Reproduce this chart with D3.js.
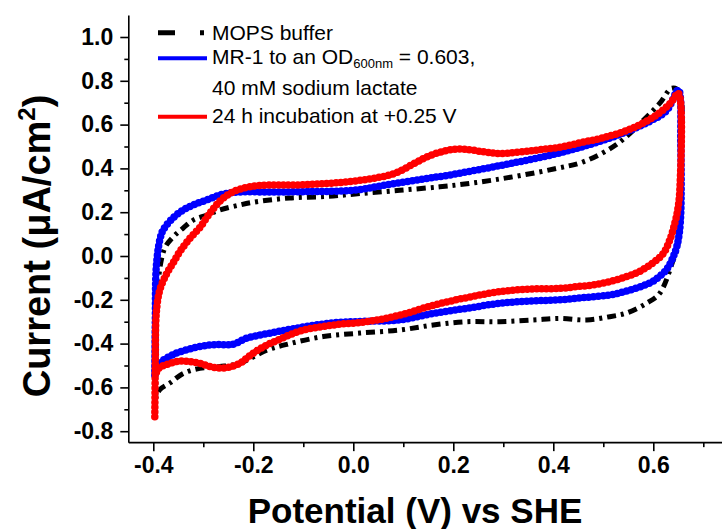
<!DOCTYPE html>
<html><head><meta charset="utf-8">
<script src="https://cdn.jsdelivr.net/npm/d3@7"></script>
<style>
html,body{margin:0;padding:0;background:#fff;}
svg{display:block;font-family:"Liberation Sans",Arial,Helvetica,sans-serif;}
</style>
</head><body>
<svg id="chart" width="722" height="529"></svg>
<script>
// ---------- data (potential in V vs SHE, current in µA/cm²) ----------
const mopsPotential = [-0.395,-0.394,-0.39,-0.377,-0.36,-0.34,-0.32,-0.293,-0.267,-0.227,-0.193,-0.127,-0.053,0.013,0.093,0.173,0.227,0.28,0.34,0.407,0.46,0.527,0.58,0.613,0.637,0.652,
  0.654,0.652,0.647,0.64,0.613,0.587,0.547,0.513,0.467,0.413,0.36,0.293,0.227,0.16,0.093,0.013,-0.06,-0.127,-0.173,-0.227,-0.267,-0.307,-0.34,-0.367,-0.387,-0.395];
const mopsCurrent = [-0.65,-0.35,-0.11,0.036,0.088,0.128,0.164,0.187,0.21,0.233,0.248,0.265,0.272,0.285,0.30,0.316,0.33,0.347,0.37,0.40,0.43,0.51,0.62,0.698,0.766,0.75,
  0.4,0.1,0.027,-0.018,-0.17,-0.215,-0.26,-0.277,-0.292,-0.285,-0.292,-0.30,-0.30,-0.315,-0.338,-0.352,-0.368,-0.40,-0.43,-0.49,-0.505,-0.513,-0.536,-0.58,-0.61,-0.65];

const mr1Potential = [-0.397,-0.396,-0.394,-0.387,-0.38,-0.36,-0.34,-0.32,-0.293,-0.26,-0.227,-0.16,-0.093,0.0,0.06,0.127,0.193,0.26,0.327,0.393,0.46,0.527,0.593,0.627,0.65,
  0.655,0.655,0.652,0.647,0.64,0.627,0.6,0.58,0.547,0.513,0.46,0.413,0.36,0.293,0.227,0.16,0.093,0.027,-0.04,-0.12,-0.173,-0.213,-0.24,-0.28,-0.32,-0.36,-0.387,-0.397];
const mr1Current = [-0.545,-0.30,-0.05,0.073,0.12,0.175,0.21,0.233,0.256,0.283,0.292,0.292,0.294,0.30,0.322,0.347,0.37,0.398,0.428,0.46,0.50,0.55,0.615,0.665,0.758,
  0.5,0.2,0.105,0.043,-0.003,-0.06,-0.115,-0.135,-0.16,-0.178,-0.19,-0.2,-0.205,-0.216,-0.239,-0.262,-0.292,-0.298,-0.305,-0.332,-0.355,-0.375,-0.403,-0.405,-0.42,-0.45,-0.49,-0.545];

const incubationPotential = [-0.397,-0.396,-0.394,-0.387,-0.373,-0.36,-0.347,-0.327,-0.307,-0.287,-0.267,-0.247,-0.227,-0.187,-0.107,-0.04,0.027,0.08,0.12,0.15,0.187,0.22,0.26,0.293,0.36,0.413,0.46,0.50,0.56,0.607,0.635,0.65,
  0.653,0.648,0.643,0.633,0.62,0.60,0.573,0.547,0.513,0.48,0.447,0.413,0.36,0.293,0.227,0.16,0.093,0.027,-0.04,-0.107,-0.147,-0.18,-0.207,-0.227,-0.253,-0.28,-0.313,-0.347,-0.373,-0.39,-0.396];
const incubationCurrent = [-0.734,-0.50,-0.26,-0.155,-0.08,-0.03,0.02,0.08,0.13,0.195,0.25,0.285,0.305,0.322,0.325,0.333,0.35,0.375,0.42,0.455,0.482,0.488,0.476,0.468,0.482,0.497,0.52,0.54,0.585,0.645,0.70,0.743,
  0.3,0.2,0.15,0.073,0.012,-0.03,-0.07,-0.094,-0.117,-0.132,-0.14,-0.148,-0.15,-0.163,-0.19,-0.225,-0.27,-0.30,-0.315,-0.343,-0.38,-0.415,-0.455,-0.49,-0.51,-0.508,-0.487,-0.48,-0.495,-0.515,-0.55];

const potentialTicks = [-0.4,-0.2,0.0,0.2,0.4,0.6];
const currentTicks = [-0.8,-0.6,-0.4,-0.2,0.0,0.2,0.4,0.6,0.8,1.0];
const xTitle = "Potential (V) vs SHE";
const seriesNames = ["MOPS buffer", "MR-1 to an OD", "24 h incubation at +0.25 V"];

// ---------- layout ----------
const svg = d3.select("#chart");
const x = d3.scaleLinear().domain([-0.45, 0.75]).range([128.3, 728.3]);
const y = d3.scaleLinear().domain([-0.85, 1.1]).range([442.15, 15.1]);
const fmt = d => d.toFixed(1);

// minor ticks
const xMinor = d3.range(-0.4, 0.75, 0.1).map(v => +v.toFixed(2)).filter(v => !potentialTicks.some(t => Math.abs(t - v) < 1e-6));
const yMinor = d3.range(-0.8, 1.05, 0.1).map(v => +v.toFixed(2)).filter(v => !currentTicks.some(t => Math.abs(t - v) < 1e-6));

const gx = svg.append("g").attr("transform", "translate(0,442.15)");
gx.call(d3.axisBottom(x).tickValues(potentialTicks).tickSize(9).tickSizeOuter(0).tickPadding(6).tickFormat(fmt));
gx.append("g").call(d3.axisBottom(x).tickValues(xMinor).tickSize(5).tickSizeOuter(0).tickFormat(""))
  .select(".domain").remove();

const gy = svg.append("g").attr("transform", "translate(128.3,0)");
gy.call(d3.axisLeft(y).tickValues(currentTicks).tickSize(8).tickSizeOuter(0).tickPadding(7).tickFormat(fmt));
gy.append("g").call(d3.axisLeft(y).tickValues(yMinor).tickSize(4).tickSizeOuter(0).tickFormat(""))
  .select(".domain").remove();

svg.selectAll(".domain").attr("stroke", "#000").attr("stroke-width", 1.6);
svg.selectAll(".tick line").attr("stroke", "#000").attr("stroke-width", 1.6);
svg.selectAll(".tick text").attr("fill", "#000").attr("font-weight", "bold")
  .attr("font-size", "23px").attr("font-family", '"Liberation Sans",Arial,sans-serif');

// axis titles
svg.append("text").attr("x", 415).attr("y", 523).attr("text-anchor", "middle")
  .attr("font-size", "35px").attr("font-weight", "bold").text(xTitle);

const yt = svg.append("text").attr("transform", "translate(50,246) rotate(-90)")
  .attr("text-anchor", "middle").attr("font-size", "38px").attr("font-weight", "bold");
yt.append("tspan").text("Current (μA/cm");
yt.append("tspan").attr("font-size", "24px").attr("dy", "-15").text("2");
yt.append("tspan").attr("dy", "15").text(")");

// ---------- series ----------
const line = d3.line().x(d => x(d[0])).y(d => y(d[1])).curve(d3.curveCatmullRom.alpha(0.5));
const zip = (a, b) => a.map((v, i) => [v, b[i]]);

const plot = svg.append("g");
// MOPS: black dash-dot
plot.append("path").datum(zip(mopsPotential, mopsCurrent)).attr("d", line)
  .attr("fill", "none").attr("stroke", "#000").attr("stroke-width", 5)
  .attr("stroke-dasharray", "9,5,3,5");

function beaded(data, color) {
  plot.append("path").datum(data).attr("d", line).attr("fill", "none")
    .attr("stroke", color).attr("stroke-width", 5.5).attr("stroke-linejoin", "round");
  plot.append("path").datum(data).attr("d", line).attr("fill", "none")
    .attr("stroke", color).attr("stroke-width", 7.5).attr("stroke-linecap", "round")
    .attr("stroke-dasharray", "0,4.8");
}
beaded(zip(mr1Potential, mr1Current), "#0000ff");
beaded(zip(incubationPotential, incubationCurrent), "#ff0000");

// ---------- legend ----------
const lg = svg.append("g");
lg.append("line").attr("x1", 158).attr("x2", 204).attr("y1", 32.7).attr("y2", 32.7)
  .attr("stroke", "#000").attr("stroke-width", 5).attr("stroke-dasharray", "17,25,4,20");
lg.append("line").attr("x1", 158).attr("x2", 207).attr("y1", 58.3).attr("y2", 58.3)
  .attr("stroke", "#0000ff").attr("stroke-width", 4);
lg.append("line").attr("x1", 158).attr("x2", 207).attr("y1", 116.7).attr("y2", 116.7)
  .attr("stroke", "#ff0000").attr("stroke-width", 4);

const lt = lg.append("g").attr("font-size", "21px").attr("fill", "#000");
lt.append("text").attr("x", 212).attr("y", 39.5).text(seriesNames[0]);
const t2 = lt.append("text").attr("x", 212).attr("y", 64);
t2.append("tspan").text(seriesNames[1]);
t2.append("tspan").attr("font-size", "13px").attr("dy", "4").text("600nm");
t2.append("tspan").attr("dy", "-4").text(" = 0.603,");
lt.append("text").attr("x", 212).attr("y", 94.5).text("40 mM sodium lactate");
lt.append("text").attr("x", 212).attr("y", 122.5).text(seriesNames[2]);
</script>
</body></html>
